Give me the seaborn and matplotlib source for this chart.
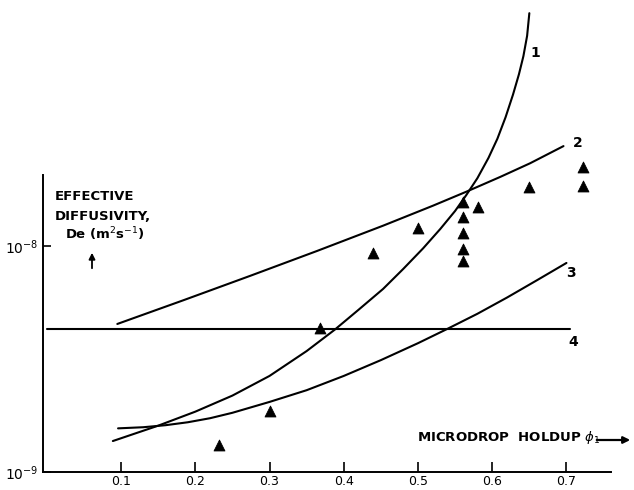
import numpy as np
import pandas as pd
import matplotlib
matplotlib.use("Agg")
import matplotlib.pyplot as plt
import seaborn as sns

# ---- data ----
# curve 1
c1_x = [0.089, 0.150, 0.200, 0.250, 0.300, 0.350, 0.388, 0.420, 0.453, 0.480, 0.507, 0.530,
        0.550, 0.565, 0.580, 0.595, 0.607, 0.618, 0.628, 0.636, 0.642, 0.647, 0.650]
c1_y = [1.371e-9, 1.603e-9, 1.849e-9, 2.178e-9, 2.661e-9, 3.428e-9, 4.266e-9, 5.224e-9,
        6.457e-9, 7.907e-9, 9.772e-9, 1.189e-8, 1.429e-8, 1.679e-8, 1.995e-8, 2.455e-8,
        2.985e-8, 3.715e-8, 4.677e-8, 5.754e-8, 6.918e-8, 8.511e-8, 1.072e-7]
# curve 2
c2_x = [0.095, 0.184, 0.274, 0.364, 0.453, 0.520, 0.565, 0.611, 0.651, 0.696]
c2_y = [4.519e-9, 5.754e-9, 7.379e-9, 9.506e-9, 1.230e-8, 1.507e-8, 1.738e-8, 2.023e-8,
        2.323e-8, 2.767e-8]
# curve 3
c3_x = [0.096, 0.130, 0.160, 0.190, 0.220, 0.250, 0.300, 0.350, 0.400, 0.450, 0.500, 0.540,
        0.580, 0.620, 0.660, 0.700]
c3_y = [1.560e-9, 1.578e-9, 1.611e-9, 1.660e-9, 1.730e-9, 1.828e-9, 2.042e-9, 2.301e-9,
        2.661e-9, 3.126e-9, 3.715e-9, 4.305e-9, 5.012e-9, 5.916e-9, 7.047e-9, 8.414e-9]
# line 4
c4_x = [0.0, 0.705]
c4_y = [4.30e-9, 4.30e-9]
# experimental points
pts_x = [0.232, 0.300, 0.368, 0.440, 0.500, 0.560, 0.560, 0.560, 0.560, 0.560, 0.581, 0.650, 0.722, 0.722]
pts_y = [1.32e-9, 1.86e-9, 4.34e-9, 9.31e-9, 1.20e-8, 1.57e-8, 1.34e-8, 1.14e-8, 9.7e-9, 8.6e-9, 1.49e-8, 1.82e-8, 2.24e-8, 1.84e-8]

x_ticks = [0.1, 0.2, 0.3, 0.4, 0.5, 0.6, 0.7]
x_tick_labels = ["0.1", "0.2", "0.3", "0.4", "0.5", "0.6", "0.7"]
y_ticks = [1e-9, 1e-8]
y_tick_labels = ["10$^{-9}$", "10$^{-8}$"]
curve_labels = ["1", "2", "3", "4"]

sns.set_style("ticks")
plt.rcParams["font.family"] = ["DejaVu Sans"]
plt.rcParams["text.color"] = "black"
plt.rcParams["xtick.color"] = "black"
plt.rcParams["ytick.color"] = "black"
plt.rcParams["xtick.labelcolor"] = "black"
plt.rcParams["ytick.labelcolor"] = "black"

W, H = 634, 490
fig = plt.figure(figsize=(W / 100, H / 100), dpi=100)
ax = fig.add_axes([43 / W, (H - 472) / H, 568 / W, 467 / H])

for cx, cy in [(c1_x, c1_y), (c2_x, c2_y), (c3_x, c3_y), (c4_x, c4_y)]:
    df = pd.DataFrame({"x": cx, "y": cy})
    sns.lineplot(data=df, x="x", y="y", ax=ax, color="black", lw=1.5,
                 sort=False, estimator=None)

sns.scatterplot(x=pts_x, y=pts_y, ax=ax, marker="^", s=62, color="black",
                edgecolor="black", linewidth=0.6, zorder=5)

ax.set_yscale("log")
ax.set_xlim(-0.0051, 0.760)
ax.set_ylim(1e-9, 10 ** (467 / 226) * 1e-9)

ax.set_xticks(x_ticks)
ax.set_xticklabels(x_tick_labels, fontsize=9)
ax.set_yticks(y_ticks)
ax.set_yticklabels(y_tick_labels, fontsize=10)
ax.yaxis.set_minor_locator(matplotlib.ticker.NullLocator())
ax.tick_params(axis="x", direction="in", length=7, width=1.2, pad=2, colors="black")
ax.tick_params(axis="y", direction="in", length=6, width=1.2, pad=3, colors="black")
ax.set_xlabel("")
ax.set_ylabel("")

for s in ["top", "right"]:
    ax.spines[s].set_visible(False)
for s in ["left", "bottom"]:
    ax.spines[s].set_color("black")
    ax.spines[s].set_linewidth(1.4)
ax.spines["left"].set_bounds(1e-9, 10 ** ((472 - 175) / 226) * 1e-9)

# curve labels
lab_pos = [(0.652, 10 ** 1.854 * 1e-9), (0.708, 10 ** 1.456 * 1e-9),
           (0.700, 10 ** 0.88 * 1e-9), (0.702, 10 ** 0.575 * 1e-9)]
for t, (lx, ly) in zip(curve_labels, lab_pos):
    ax.text(lx, ly, t, fontsize=10, fontweight="bold", ha="left", va="center", color="black")

def fx(px):
    return px / W

def fy(py):
    return 1 - py / H

fig.text(fx(55), fy(197), "EFFECTIVE", fontsize=9.5, fontweight="bold", va="center", ha="left")
fig.text(fx(55), fy(216), "DIFFUSIVITY,", fontsize=9.5, fontweight="bold", va="center", ha="left")
fig.text(fx(65), fy(234), "De (m$^{2}$s$^{-1}$)", fontsize=9.5, fontweight="bold", va="center", ha="left")
fig.add_artist(matplotlib.patches.FancyArrowPatch((fx(92), fy(271)), (fx(92), fy(250)),
               transform=fig.transFigure, arrowstyle="-|>", mutation_scale=9,
               color="black", lw=1.3))

fig.text(fx(417), fy(438), "MICRODROP  HOLDUP $\\phi_1$", fontsize=9.5, fontweight="bold",
         va="center", ha="left")
fig.add_artist(matplotlib.patches.FancyArrowPatch((fx(594), fy(440)), (fx(633), fy(440)),
               transform=fig.transFigure, arrowstyle="-|>", mutation_scale=10,
               color="black", lw=1.6))

fig.savefig("out.png", dpi=100, facecolor="white")
